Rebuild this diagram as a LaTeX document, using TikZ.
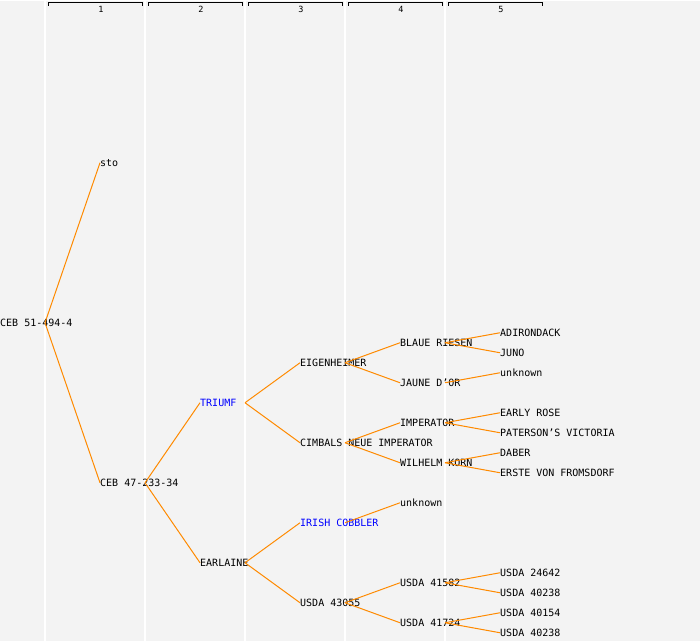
\documentclass[tikz,border=0pt]{standalone}
\usepackage{fontspec}
\newfontfamily\pedfont{DejaVu Sans Mono}
\definecolor{ped-bg}{HTML}{F3F3F3}
\definecolor{ped-line}{HTML}{FF8A00}
\definecolor{ped-blue}{HTML}{0000FF}
\tikzset{
  cultivar/.style={anchor=west, inner sep=0pt, text height=7.3pt, text depth=0pt,
    font=\pedfont\fontsize{10}{12}\selectfont},
  cultivar-hl/.style={cultivar, text=ped-blue},
  descent/.style={draw=ped-line, line width=1pt},
  gen-line/.style={draw=white, line width=1.5pt},
  gen-brace/.style={draw=black, line width=1pt},
  gen-num/.style={inner sep=0pt, font=\pedfont\fontsize{8.5}{10}\selectfont},
}

\begin{document}
\begin{tikzpicture}[x=1pt, y=-1pt]
\fill[ped-bg] (0,0) rectangle (700,640);
% generation columns
\foreach \g in {1,...,5} {
  \draw[gen-line] (\g*100-55,0) -- (\g*100-55,640);
  \draw[gen-brace] (\g*100-52,5) -- (\g*100-52,2) -- (\g*100+42,2) -- (\g*100+42,5);
  \node[gen-num] (gen\g) at (\g*100+1,9) {\g};
}
% generation 0 and 1
\node[cultivar] at (0, 322) (ceb51) {CEB 51-494-4};
\node[cultivar] at (100, 162) (sto) {sto};
\node[cultivar] at (100, 482) (ceb47) {CEB 47-233-34};
% generation 2
\node[cultivar-hl] at (200, 402) (triumf) {TRIUMF};
\node[cultivar] at (200, 562) (earlaine) {EARLAINE};
% generation 3
\node[cultivar] at (300, 362) (eigenheimer) {EIGENHEIMER};
\node[cultivar] at (300, 442) (cimbals) {CIMBALS NEUE IMPERATOR};
\node[cultivar-hl] at (300, 522) (cobbler) {IRISH COBBLER};
\node[cultivar] at (300, 602) (usda43055) {USDA 43055};
% generation 4
\node[cultivar] at (400, 342) (blaue) {BLAUE RIESEN};
\node[cultivar] at (400, 382) (jaune) {JAUNE D’OR};
\node[cultivar] at (400, 422) (imperator) {IMPERATOR};
\node[cultivar] at (400, 462) (wilhelm) {WILHELM KORN};
\node[cultivar] at (400, 502) (unknown-a) {unknown};
\node[cultivar] at (400, 582) (usda41582) {USDA 41582};
\node[cultivar] at (400, 622) (usda41724) {USDA 41724};
% generation 5
\node[cultivar] at (500, 332) (adirondack) {ADIRONDACK};
\node[cultivar] at (500, 352) (juno) {JUNO};
\node[cultivar] at (500, 372) (unknown-b) {unknown};
\node[cultivar] at (500, 412) (earlyrose) {EARLY ROSE};
\node[cultivar] at (500, 432) (paterson) {PATERSON’S VICTORIA};
\node[cultivar] at (500, 452) (daber) {DABER};
\node[cultivar] at (500, 472) (erste) {ERSTE VON FROMSDORF};
\node[cultivar] at (500, 572) (usda24642) {USDA 24642};
\node[cultivar] at (500, 592) (usda40238-a) {USDA 40238};
\node[cultivar] at (500, 612) (usda40154) {USDA 40154};
\node[cultivar] at (500, 632) (usda40238-b) {USDA 40238};
% parentage
\foreach \p/\c in {ceb51/sto, ceb51/ceb47, ceb47/triumf, ceb47/earlaine,
    triumf/eigenheimer, triumf/cimbals, earlaine/cobbler, earlaine/usda43055,
    eigenheimer/blaue, eigenheimer/jaune, cimbals/imperator, cimbals/wilhelm,
    cobbler/unknown-a, usda43055/usda41582, usda43055/usda41724,
    blaue/adirondack, blaue/juno, jaune/unknown-b, imperator/earlyrose,
    imperator/paterson, wilhelm/daber, wilhelm/erste, usda41582/usda24642,
    usda41582/usda40238-a, usda41724/usda40154, usda41724/usda40238-b}
  \draw[descent] ([xshift=45pt]\p.west) -- (\c.west);
\end{tikzpicture}
\end{document}
